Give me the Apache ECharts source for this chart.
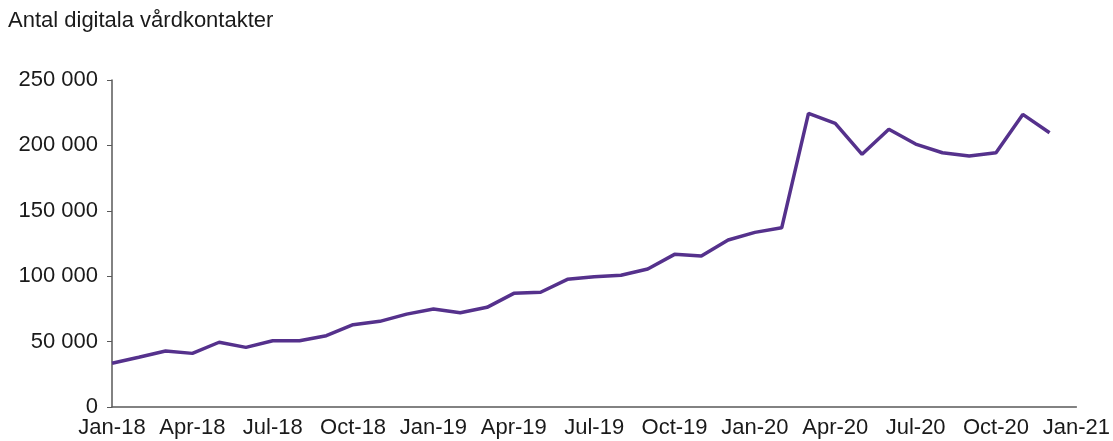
<!DOCTYPE html>
<html><head><meta charset="utf-8">
<script src="https://cdn.jsdelivr.net/npm/echarts@6/dist/echarts.min.js"></script>
<style>html,body{margin:0;padding:0;background:#fff}#c{width:1113px;height:441px}</style>
</head><body><div id="c"></div>
<script>
var months = ['Jan-18','Feb-18','Mar-18','Apr-18','May-18','Jun-18','Jul-18','Aug-18','Sep-18','Oct-18','Nov-18','Dec-18',
'Jan-19','Feb-19','Mar-19','Apr-19','May-19','Jun-19','Jul-19','Aug-19','Sep-19','Oct-19','Nov-19','Dec-19',
'Jan-20','Feb-20','Mar-20','Apr-20','May-20','Jun-20','Jul-20','Aug-20','Sep-20','Oct-20','Nov-20','Dec-20','Jan-21'];
var values = [33400,38000,42800,41000,49500,45600,50700,50700,54500,62900,65500,71000,
74900,72000,76200,86900,87700,97600,99600,100700,105500,116700,115400,127700,
133500,137000,224500,216900,193200,212300,201000,194400,191900,194400,223700,209700];
var yTicks = [0,50000,100000,150000,200000,250000];
var title = 'Antal digitala vårdkontakter';
var font = 'Liberation Sans, Arial, sans-serif';
var chart = echarts.init(document.getElementById('c'));
chart.setOption({
  animation:false,
  title:{text:title,left:3,top:5,textStyle:{fontFamily:font,fontSize:22,fontWeight:'normal',color:'#1a1a1a'}},
  grid:{left:112,right:35,top:80,bottom:34,containLabel:false},
  xAxis:{type:'category',data:months,boundaryGap:false,
    axisLine:{lineStyle:{color:'#595959',width:1.5}},
    axisTick:{show:false},
    axisLabel:{interval:2,margin:10,fontFamily:font,fontSize:22,color:'#1a1a1a',showMaxLabel:true}},
  yAxis:{type:'value',min:yTicks[0],max:yTicks[yTicks.length-1],interval:50000,
    axisLine:{show:true,lineStyle:{color:'#595959',width:1.5}},
    axisTick:{show:true,length:5,lineStyle:{color:'#595959'}},
    splitLine:{show:false},
    axisLabel:{margin:14,fontFamily:font,fontSize:22,color:'#1a1a1a',
      formatter:function(v){return String(v).replace(/\B(?=(\d{3})+(?!\d))/g,' ');}}},
  series:[{type:'line',data:values,showSymbol:false,lineStyle:{color:'#55318c',width:3.5},itemStyle:{color:'#55318c'}}]
});
</script></body></html>
